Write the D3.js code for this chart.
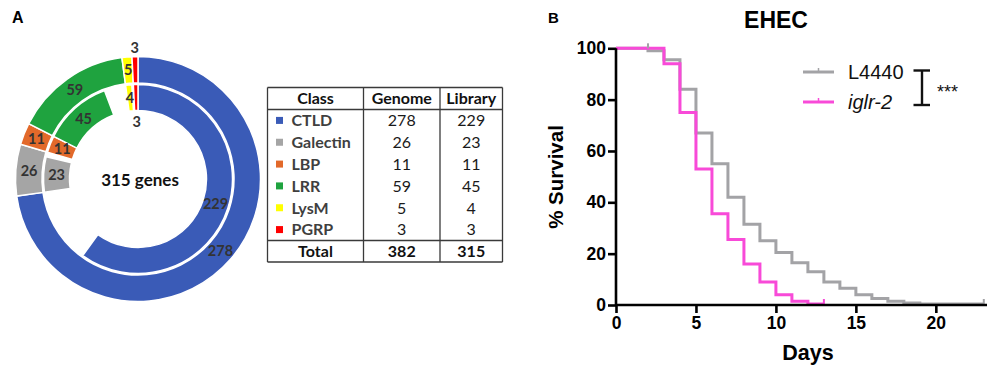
<!DOCTYPE html>
<html><head><meta charset="utf-8">
<script src="https://cdn.jsdelivr.net/npm/d3@7/dist/d3.min.js"></script>
<style>body{margin:0;background:#fff}svg{display:block}</style>
</head><body>
<svg id="c" width="997" height="366"></svg>
<script>
// ---------- data ----------
const classes = ["CTLD","Galectin","LBP","LRR","LysM","PGRP"];
const genome  = [278,26,11,59,5,3];
const library = [229,23,11,45,4,3];
const classColors = ["#3A5BB7","#A5A5A5","#E2692A","#1FA33F","#FFFF00","#FF0000"];
const genomeTotal = 382, libraryTotal = 315;

const daysL4440 = [0,2,3,4,5,6,7,8,9,10,11,12,13,14,15,16,17,18,19,23];
const survL4440 = [100,99,95.5,84,67,55,42,31.5,25,20.5,16.5,13,9,6.5,4,2.5,1.5,0.8,0.4,0.4];
const daysIglr  = [0,3,4,5,6,7,8,9,10,11,12,13];
const survIglr  = [100,94,75,53,35.5,25.5,16,9,4,1.5,0.4,0.4];
const xTicks = [0,5,10,15,20];
const yTicks = [0,20,40,60,80,100];

const svg = d3.select("#c");

// ---------- panel labels ----------
svg.append("text").attr("x",12).attr("y",23).attr("font-family","Liberation Sans, Arial").attr("font-weight","bold").attr("font-size",16).text("A");
svg.append("text").attr("x",548).attr("y",23).attr("font-family","Liberation Sans, Arial").attr("font-weight","bold").attr("font-size",15).text("B");

// ---------- donut ----------
const cx = 138, cy = 179;
const g = svg.append("g").attr("transform",`translate(${cx},${cy})`);
const ang = d3.scaleLinear().domain([0,genomeTotal]).range([0,2*Math.PI]);
const starts = d3.cumsum([0,...genome.slice(0,-1)]);
const outerArc = d3.arc().innerRadius(96).outerRadius(122.5);
const innerArc = d3.arc().innerRadius(68.5).outerRadius(94.5);
const outerData = genome.map((v,i)=>({startAngle:ang(starts[i]),endAngle:ang(starts[i]+v),v,i}));
const innerData = library.map((v,i)=>({startAngle:ang(starts[i]),endAngle:ang(starts[i]+v),v,i}));
g.selectAll(".o").data(outerData).join("path").attr("d",outerArc).attr("fill",d=>classColors[d.i]).attr("stroke","#fff").attr("stroke-width",1.5);
g.selectAll(".in").data(innerData).join("path").attr("d",innerArc).attr("fill",d=>classColors[d.i]).attr("stroke","#fff").attr("stroke-width",1.5);
const lblFont = "Lato, Open Sans, sans-serif";
function lab(d, arc, rOverride){
  let [x,y] = arc.centroid(d);
  if(rOverride){ const a=(d.startAngle+d.endAngle)/2; x=rOverride*Math.sin(a); y=-rOverride*Math.cos(a); }
  return [x,y];
}
outerData.forEach(d=>{
  const [x,y] = lab(d,outerArc, d.i===5?131:null);
  g.append("text").attr("x",x).attr("y",y).attr("dy","0.36em").attr("text-anchor","middle")
   .attr("font-family",lblFont).attr("font-weight","bold").attr("font-size",14.5).attr("fill","#333").text(d.v);
});
innerData.forEach(d=>{
  const [x,y] = lab(d,innerArc, d.i===5?57:null);
  g.append("text").attr("x",x).attr("y",y).attr("dy","0.36em").attr("text-anchor","middle")
   .attr("font-family",lblFont).attr("font-weight","bold").attr("font-size",14.5).attr("fill","#333").text(d.v);
});
g.append("text").attr("x",2).attr("y",1).attr("dy","0.36em").attr("text-anchor","middle")
 .attr("font-family",lblFont).attr("font-weight","bold").attr("font-size",17).attr("fill","#111").text(libraryTotal+" genes");

// ---------- table ----------
const tb = svg.append("g");
const tx = [267.5,363.5,440,502.5];
const ty0 = 87.5, tyH = 109.5, tyT = 240.5, ty1 = 262;
const rowY = d3.scaleBand().domain(classes).range([tyH,tyT]);
const tLine = (x1,y1,x2,y2)=>tb.append("line").attr("x1",x1).attr("y1",y1).attr("x2",x2).attr("y2",y2).attr("stroke","#3a3a3a").attr("stroke-width",1.3);
tLine(tx[0],ty0,tx[3],ty0); tLine(tx[0],tyH,tx[3],tyH); tLine(tx[0],tyT,tx[3],tyT); tLine(tx[0],ty1,tx[3],ty1);
tx.forEach(x=>tLine(x,ty0,x,ty1));
const tf = "Lato, Open Sans, sans-serif", fs = 16;
const colC = [(tx[0]+tx[1])/2,(tx[1]+tx[2])/2,(tx[2]+tx[3])/2];
["Class","Genome","Library"].forEach((t,i)=>tb.append("text").attr("x",colC[i]).attr("y",(ty0+tyH)/2).attr("dy","0.36em")
  .attr("text-anchor","middle").attr("font-family",tf).attr("font-weight","bold").attr("font-size",fs).attr("fill","#111").text(t));
classes.forEach((c,i)=>{
  const yc = rowY(c)+rowY.bandwidth()/2;
  tb.append("rect").attr("x",276).attr("y",yc-3.5).attr("width",7).attr("height",7).attr("fill",classColors[i]);
  tb.append("text").attr("x",291.5).attr("y",yc).attr("dy","0.36em").attr("font-family",tf).attr("font-weight","bold").attr("font-size",fs).attr("fill","#3f3f3f").text(c);
  tb.append("text").attr("x",colC[1]).attr("y",yc).attr("dy","0.36em").attr("text-anchor","middle").attr("font-family",tf).attr("font-size",fs).attr("fill","#1a1a1a").text(genome[i]);
  tb.append("text").attr("x",colC[2]).attr("y",yc).attr("dy","0.36em").attr("text-anchor","middle").attr("font-family",tf).attr("font-size",fs).attr("fill","#1a1a1a").text(library[i]);
});
const yTot = (tyT+ty1)/2;
[["Total",colC[0]],[genomeTotal,colC[1]],[libraryTotal,colC[2]]].forEach(([t,x])=>tb.append("text").attr("x",x).attr("y",yTot).attr("dy","0.36em")
  .attr("text-anchor","middle").attr("font-family",tf).attr("font-weight","bold").attr("font-size",fs).attr("fill","#111").text(t));

// ---------- survival plot ----------
const x = d3.scaleLinear().domain([0,23.2]).range([616,987]);
const y = d3.scaleLinear().domain([0,100]).range([305,48.3]);
const af = "Liberation Sans, Arial, sans-serif";
const line = d3.line().x(d=>x(d[0])).y(d=>y(d[1])).curve(d3.curveStepAfter);
const ptsL = daysL4440.map((d,i)=>[d,survL4440[i]]);
const ptsI = daysIglr.map((d,i)=>[d,survIglr[i]]);
svg.append("path").attr("d",line(ptsL)).attr("fill","none").attr("stroke","#A3A3A6").attr("stroke-width",3);
svg.append("path").attr("d",line(ptsI)).attr("fill","none").attr("stroke","#F84AD8").attr("stroke-width",3);
// censor ticks at ends
[[ptsL[ptsL.length-1],"#A3A3A6"],[ptsI[ptsI.length-1],"#F84AD8"],[[2,100],"#A3A3A6"]].forEach(([p,c])=>
  svg.append("line").attr("x1",x(p[0])).attr("x2",x(p[0])).attr("y1",y(p[1])).attr("y2",y(p[1])-5).attr("stroke",c).attr("stroke-width",2));

const xAxis = svg.append("g").attr("transform","translate(0,305)").call(d3.axisBottom(x).tickValues(xTicks).tickSize(8).tickPadding(4).tickFormat(d3.format("d")));
const yAxis = svg.append("g").attr("transform","translate(616,0)").call(d3.axisLeft(y).tickValues(yTicks).tickSize(8).tickPadding(2).tickFormat(d3.format("d")));
[xAxis,yAxis].forEach(a=>{
  a.select(".domain").attr("stroke","#000").attr("stroke-width",2.6);
  a.selectAll(".tick line").attr("stroke","#000").attr("stroke-width",2.6);
  a.selectAll(".tick text").attr("font-family",af).attr("font-weight","bold").attr("font-size",17.5).attr("fill","#000");
});
yAxis.select(".domain").attr("d","M0,"+y(100)+"V"+y(0));
xAxis.select(".domain").attr("d","M"+x(0)+",0H"+x(23.2));

svg.append("text").attr("x",776).attr("y",28).attr("text-anchor","middle").attr("font-family",af).attr("font-weight","bold").attr("font-size",23).text("EHEC");
svg.append("text").attr("x",808).attr("y",360).attr("text-anchor","middle").attr("font-family",af).attr("font-weight","bold").attr("font-size",21.5).text("Days");
svg.append("text").attr("transform","translate(563,177) rotate(-90)").attr("text-anchor","middle").attr("font-family",af).attr("font-weight","bold").attr("font-size",20.5).text("% Survival");

// legend
const leg = [["L4440","#A3A3A6","normal",72],["iglr-2","#F84AD8","italic",102]];
leg.forEach(([t,c,st,ly])=>{
  svg.append("line").attr("x1",803).attr("x2",834).attr("y1",ly).attr("y2",ly).attr("stroke",c).attr("stroke-width",3);
  svg.append("line").attr("x1",818.5).attr("x2",818.5).attr("y1",ly).attr("y2",ly-4).attr("stroke",c).attr("stroke-width",1.5);
  svg.append("text").attr("x",848).attr("y",ly+7).attr("font-family",af).attr("font-style",st).attr("font-size",20).attr("fill","#111").text(t);
});
const br = svg.append("g").attr("stroke","#111").attr("stroke-width",2.4);
br.append("line").attr("x1",922).attr("x2",922).attr("y1",70.5).attr("y2",105);
br.append("line").attr("x1",913.5).attr("x2",930).attr("y1",70.5).attr("y2",70.5);
br.append("line").attr("x1",913.5).attr("x2",930).attr("y1",105).attr("y2",105);
svg.append("text").attr("x",937).attr("y",98).attr("font-family",af).attr("font-size",18).attr("fill","#111").text("***");
</script>
</body></html>
